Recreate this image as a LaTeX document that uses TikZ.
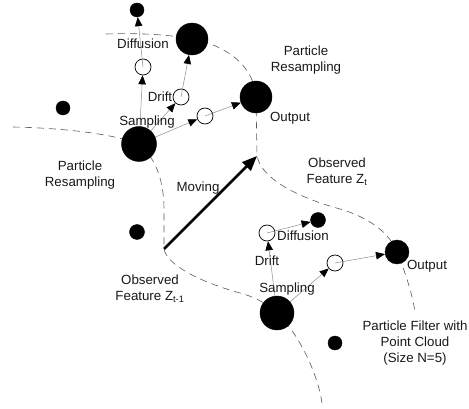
\documentclass[tikz,border=0pt]{standalone}
\usepackage{fontspec}
\setmainfont{Liberation Sans}
\usetikzlibrary{arrows.meta,backgrounds}
\begin{document}
\begin{tikzpicture}[x=1pt,y=-1pt,
  bigdot/.style={circle,fill=black,draw=black,inner sep=0pt,minimum size=#1},
  opendot/.style={circle,fill=white,draw=black,line width=0.7pt,inner sep=0pt,minimum size=16pt},
  flow/.style={draw=black!45,line width=0.5pt,-{Triangle[length=9pt,width=7.5pt,black]}},
  move/.style={draw=black,line width=2.5pt,-{Triangle[length=15pt,width=12pt]}},
  lbl/.style={font=\fontsize{13.3}{16}\selectfont,align=center,inner sep=0pt,text=black!90},
  border/.style={draw=black!65,line width=0.6pt,dash pattern=on 7pt off 5pt}]
\useasboundingbox (0,0) rectangle (469,409);
% particles
\node[bigdot=14pt] (topdot) at (137,10) {};
\node[bigdot=32pt] (big1) at (192,39) {};
\node[opendot] (dc1) at (143,67) {};
\node[opendot] (drc1) at (181,97) {};
\node[opendot] (rc1) at (205,116) {};
\node[bigdot=14pt] (leftdot) at (63,108) {};
\node[bigdot=35pt] (samp1) at (139,144) {};
\node[bigdot=32pt] (out1) at (256,97) {};
\node[bigdot=15pt] (dot3) at (137,232) {};
\node[bigdot=34pt] (samp2) at (277,313) {};
\node[bigdot=15pt] (diffdot2) at (318,220) {};
\node[opendot] (drc2) at (267,233) {};
\node[opendot] (rc2) at (335,263) {};
\node[bigdot=24pt] (out2) at (397,252) {};
\node[bigdot=14pt] (dot4) at (335,343) {};
\coordinate (zt1) at (164,249);
\coordinate (zt) at (257,156);
% observation boundaries
\begin{scope}[on background layer]
\draw[border] (106,34) .. controls (135,33) and (165,34) .. (big1.center)
  .. controls (225,45) and (254,65) .. (out1.center) -- (zt)
  .. controls (262,180) and (300,198) .. (340,209)
  .. controls (368,217) and (390,233) .. (out2.center)
  .. controls (405,272) and (412,292) .. (415,312);
\draw[border] (13,127) .. controls (60,128) and (110,133) .. (samp1.center)
  .. controls (158,160) and (164,185) .. (164,210) -- (zt1)
  .. controls (167,265) and (200,282) .. (240,293)
  .. controls (255,297) and (268,304) .. (samp2.center)
  .. controls (300,335) and (318,375) .. (322,403);
\end{scope}
% flows
\draw[flow] (samp1) -- (dc1);
\draw[flow] (dc1.center) -- (topdot);
\draw[flow] (samp1) -- (drc1);
\draw[flow] (drc1.center) -- (big1);
\draw[flow] (samp1) -- (rc1);
\draw[flow] (rc1.center) -- (out1);
\draw[flow] (samp2) -- (drc2);
\draw[flow] (drc2.center) -- (diffdot2);
\draw[flow] (samp2) -- (rc2);
\draw[flow] (rc2.center) -- (out2);
\draw[move] (zt1) -- (zt);
% labels
\node[lbl] (l1) at (143,44) {Diffusion};
\node[lbl] (l2) at (160,97) {Drift};
\node[lbl] (l3) at (147,122) {Sampling};
\node[lbl] (l4) at (80,175) {Particle\\Resampling};
\node[lbl] (l5) at (198,188) {Moving};
\node[lbl] (l6) at (306,60) {Particle\\Resampling};
\node[lbl] (l7) at (290,118) {Output};
\node[lbl] (l8) at (337,172) {Observed\\Feature Z\textsubscript{t}};
\node[lbl] (l9) at (150,289) {Observed\\Feature Z\textsubscript{t-1}};
\node[lbl] (l10) at (303,236) {Diffusion};
\node[lbl] (l11) at (267,261) {Drift};
\node[lbl] (l12) at (287,289) {Sampling};
\node[lbl] (l13) at (427,266) {Output};
\node[lbl] (l14) at (415,343) {Particle Filter with\\Point Cloud\\(Size N=5)};
\end{tikzpicture}
\end{document}
